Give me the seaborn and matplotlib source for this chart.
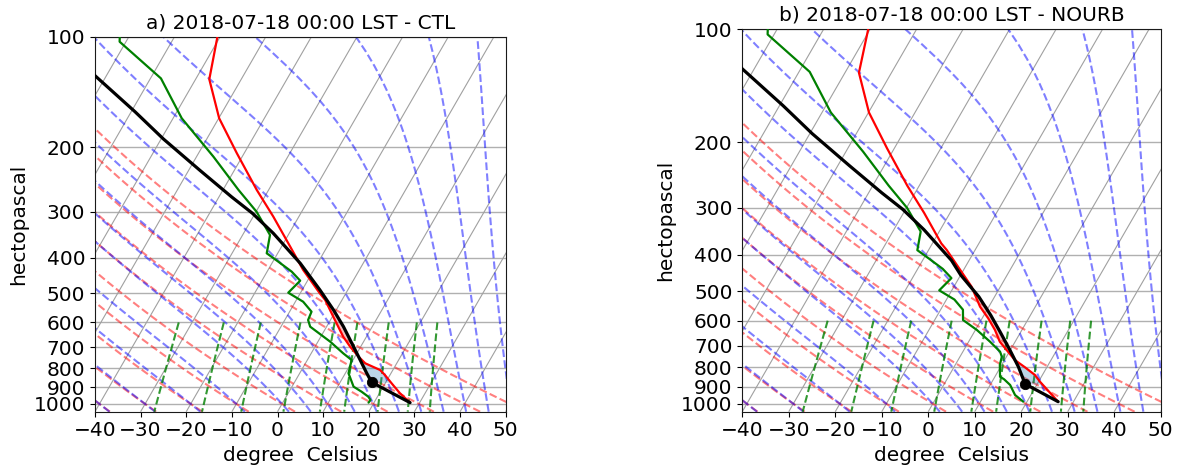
"""Skew-T log-p soundings for 2018-07-18 00:00 LST: CTL vs NOURB."""
import matplotlib
matplotlib.use("Agg")
import matplotlib.pyplot as plt
import matplotlib.transforms as mtransforms
import numpy as np
import pandas as pd
import seaborn as sns
from matplotlib.collections import LineCollection
from matplotlib.ticker import MultipleLocator, NullLocator, ScalarFormatter

# ---- soundings (pressure hPa, temperature degC) ----
ctl_temp_p = [100, 130.6, 166.8, 207.7, 261.4, 309, 373, 431.8, 499.9, 521, 578.7,
              656, 698.6, 743.6, 775.2, 808.4, 834.4, 878.6, 935.4, 992]
ctl_temp = [-60.6, -57.0, -49.9, -41.6, -32.6, -25.6, -18.1, -12.3, -5.7, -3.7, 0.2,
            4.9, 7.7, 10.8, 13.1, 17.2, 18.9, 21.4, 24.5, 27.9]
ctl_dew_p = [100, 103.2, 129.9, 166.8, 212.2, 261.4, 299.6, 346.7, 388.9, 409.9, 436.4,
             461.8, 497.9, 526.8, 560.8, 590.8, 616.1, 677, 728, 759.3, 791.9, 825.3,
             897.5, 926.4, 955.8, 975.7, 992]
ctl_dew = [-82.0, -81.4, -67.7, -58.1, -46.3, -36.6, -29.9, -24.0, -22.4, -18.8, -14.6,
           -11.6, -12.7, -8.3, -5.2, -4.9, -3.6, 2.7, 7.0, 9.7, 10.2, 10.7,
           13.5, 15.9, 18.0, 18.9, 18.8]
ctl_parcel_p = [120, 127.9, 160, 189.9, 231.3, 273.2, 302.6, 343, 414, 489.5, 554.8,
                616.1, 728, 825.3, 873, 992]
ctl_parcel = [-86.0, -82.4, -69.2, -59.5, -47.5, -37.2, -30.6, -23.5, -13.8, -6.1, -0.6,
              3.7, 10.0, 14.7, 16.9, 27.9]
ctl_lcl = (873, 16.9)

nourb_temp_p = [100, 130.6, 166.8, 207.7, 261.4, 309, 373, 388.5, 486.8, 550.4, 591.2,
                635.1, 682.7, 718.5, 764, 799.2, 837.9, 873, 987.3]
nourb_temp = [-60.4, -57.0, -49.9, -41.6, -32.6, -25.6, -18.1, -16.1, -6.2, -1.9, 1.3,
              4.2, 6.7, 9.2, 12.2, 15.3, 18.4, 20.3, 26.7]
nourb_dew_p = [100, 103.2, 129.9, 166.8, 212.2, 261.4, 299.6, 346.7, 388.9, 409.9, 436.4,
               461.8, 497.9, 526.8, 560.8, 597.5, 635.1, 682.7, 726, 748.7, 787.8,
               846.7, 860.3, 890.9, 947.5, 987.3]
nourb_dew = [-82.0, -81.4, -67.7, -58.1, -46.3, -36.6, -29.9, -24.0, -22.4, -18.8, -14.6,
             -11.6, -12.7, -8.3, -5.2, -3.9, 0.3, 4.6, 8.0, 9.0, 9.6,
             11.1, 12.3, 14.3, 16.6, 19.2]
nourb_parcel_p = [120, 127.9, 160, 189.9, 231.3, 273.2, 302.6, 343, 414, 452.9, 517.7,
                  579.2, 641.9, 718.5, 796.3, 885.5, 987.3]
nourb_parcel = [-86.0, -82.4, -69.2, -59.5, -47.5, -37.2, -30.6, -23.5, -13.8, -10.0, -3.4,
                1.4, 5.5, 9.9, 13.8, 17.4, 26.7]
nourb_lcl = (885.5, 17.4)

# ---- reference lines of the diagram ----
isotherms = list(range(-100, 51, 10))
dry_adiabat_t0 = [-40, -30, -20, -10, 0, 10, 20, 30, 40, 50]
moist_adiabat_t0 = [-40, -30, -20, -10, 0, 5, 10, 15, 20, 25, 30, 35, 40, 45, 50]
mixing_ratios = [0.0004, 0.001, 0.002, 0.004, 0.007, 0.01, 0.016, 0.024, 0.032]

RD, CP, LV, EPS = 287.04749, 1004.6662, 2.50084e6, 0.6219569
P_BOT, P_TOP = 1050.0, 100.0
FS = 14.5


class SkewX(mtransforms.Affine2DBase):
    """Shear in display space about the lower-left corner of the axes."""

    def __init__(self, bbox, rot):
        super().__init__()
        self._bbox = bbox
        self.set_children(bbox)
        self._rot = rot
        self._mtx = None
        self.invalidate()

    def get_matrix(self):
        if self._invalid or self._mtx is None:
            x0, y0 = self._bbox.xmin, self._bbox.ymin
            self._mtx = (mtransforms.Affine2D().translate(-x0, -y0)
                         .skew_deg(self._rot, 0).translate(x0, y0).get_matrix())
            self._inverted = None
            self._invalid = 0
        return self._mtx


def sat_vapor(t_k):
    return 6.112 * np.exp(17.67 * (t_k - 273.15) / (t_k - 29.65))


def moist_dtdp(p, t):
    es = sat_vapor(t)
    rs = EPS * es / np.maximum(p - es, 1e-3)
    return (RD * t + LV * rs) / (CP + LV * LV * rs * EPS / (RD * t * t)) / p


def moist_lapse(t0, p):
    t_start = np.asarray(t0, float) + 273.15
    i0 = int(np.argmin(np.abs(p - 1000.0)))
    out = np.empty((t_start.size, p.size))
    out[:, i0] = t_start
    for step in (1, -1):
        t = t_start.copy()
        prev = p[i0]
        stop = p.size if step > 0 else -1
        for i in range(i0 + step, stop, step):
            h = (p[i] - prev) / 4
            pp = prev
            for _ in range(4):
                k1 = moist_dtdp(pp, t)
                k2 = moist_dtdp(pp + h / 2, t + h / 2 * k1)
                k3 = moist_dtdp(pp + h / 2, t + h / 2 * k2)
                k4 = moist_dtdp(pp + h, t + h * k3)
                t = t + h / 6 * (k1 + 2 * k2 + 2 * k3 + k4)
                pp += h
            out[:, i] = t
            prev = p[i]
    return out - 273.15


def draw_background(ax, skew):
    p = np.linspace(P_BOT, P_TOP, 96)
    iso = [[(t, P_BOT), (t, P_TOP)] for t in isotherms]
    ax.add_collection(LineCollection(iso, colors="#a0a0a0", linewidths=0.8,
                                     transform=skew, zorder=0.8), autolim=False)

    t0 = np.array(dry_adiabat_t0, float)[:, None] + 273.15
    dry = t0 * (p / 1000.0) ** (RD / CP) - 273.15
    ax.add_collection(LineCollection([np.column_stack((d, p)) for d in dry],
                                     colors="r", linestyles="dashed", alpha=0.5,
                                     linewidths=1.5, transform=skew, zorder=1),
                      autolim=False)

    moist = moist_lapse(moist_adiabat_t0, p)
    ax.add_collection(LineCollection([np.column_stack((m, p)) for m in moist],
                                     colors="b", linestyles="dashed", alpha=0.5,
                                     linewidths=1.5, transform=skew, zorder=1),
                      autolim=False)

    pm = np.linspace(600, P_BOT, 50)
    w = np.array(mixing_ratios)[:, None]
    e = pm * w / (EPS + w)
    val = np.log(e / 6.112)
    td = 243.5 * val / (17.67 - val)
    ax.add_collection(LineCollection([np.column_stack((d, pm)) for d in td],
                                     colors="g", linestyles="dashed", alpha=0.8,
                                     linewidths=1.5, transform=skew, zorder=1),
                      autolim=False)


def shade(ax, skew, temp_p, temp, parcel_p, parcel, lcl_p):
    pg = np.geomspace(lcl_p, 300, 400)
    env = np.interp(np.log(pg), np.log(temp_p), temp)
    par = np.interp(np.log(pg), np.log(parcel_p), parcel)
    warm = par > env
    p_lfc = pg[np.argmax(warm)]
    ax.fill_betweenx(pg, par, env, where=warm & (pg <= p_lfc), interpolate=True,
                     color="tab:red", alpha=0.3, linewidth=0, transform=skew, zorder=1.5)
    ax.fill_betweenx(pg, par, env, where=(~warm) & (pg >= p_lfc), interpolate=True,
                     color="tab:blue", alpha=0.3, linewidth=0, transform=skew, zorder=1.5)


def draw_panel(ax, title, temp_p, temp, dew_p, dew, parcel_p, parcel, lcl):
    ax.set_yscale("log")
    ax.set_xlim(-40, 50)
    ax.set_ylim(P_BOT, P_TOP)
    ax.set_autoscale_on(False)
    skew = ax.transData + SkewX(ax.bbox, 30)

    draw_background(ax, skew)
    shade(ax, skew, temp_p, temp, parcel_p, parcel, lcl[0])

    for pres, vals, col, lw in [(temp_p, temp, "r", 1.6), (dew_p, dew, "g", 1.6),
                                (parcel_p, parcel, "k", 2.3)]:
        df = pd.DataFrame({"p": pres, "T": vals})
        sns.lineplot(data=df, x="T", y="p", sort=False, estimator=None, color=col,
                     linewidth=lw, transform=skew, ax=ax, legend=False, zorder=3)
    sns.scatterplot(x=[lcl[1]], y=[lcl[0]], color="k", edgecolor="k", s=55,
                    transform=skew, ax=ax, legend=False, zorder=4)

    ax.set_xlim(-40, 50)
    ax.set_ylim(P_BOT, P_TOP)
    ax.set_xticks(range(-40, 51, 10))
    ax.yaxis.set_major_locator(MultipleLocator(100))
    ax.yaxis.set_minor_locator(NullLocator())
    ax.yaxis.set_major_formatter(ScalarFormatter())
    ax.grid(True, axis="y", color="#b0b0b0", linewidth=1.0, zorder=0.5)
    ax.tick_params(labelsize=FS, colors="black")
    ax.set_xlabel("degree  Celsius", fontsize=FS, color="black")
    ax.set_ylabel("hectopascal", fontsize=FS, color="black")
    ax.set_title(title, fontsize=FS, color="black")


def main():
    sns.set_style("ticks", {"axes.edgecolor": "0.1", "axes.linewidth": 1.0})
    plt.rcParams["font.family"] = ["DejaVu Sans"]

    fig = plt.figure(figsize=(11.81, 4.71), dpi=100)
    ax1 = fig.add_axes([0.0804, 0.1259, 0.3478, 0.7962])
    ax2 = fig.add_axes([0.6285, 0.1259, 0.3543, 0.8119])

    draw_panel(ax1, "a) 2018-07-18 00:00 LST - CTL", ctl_temp_p, ctl_temp,
               ctl_dew_p, ctl_dew, ctl_parcel_p, ctl_parcel, ctl_lcl)
    draw_panel(ax2, "b) 2018-07-18 00:00 LST - NOURB", nourb_temp_p, nourb_temp,
               nourb_dew_p, nourb_dew, nourb_parcel_p, nourb_parcel, nourb_lcl)

    fig.savefig("out.png", dpi=100)
    plt.close(fig)


if __name__ == "__main__":
    main()
